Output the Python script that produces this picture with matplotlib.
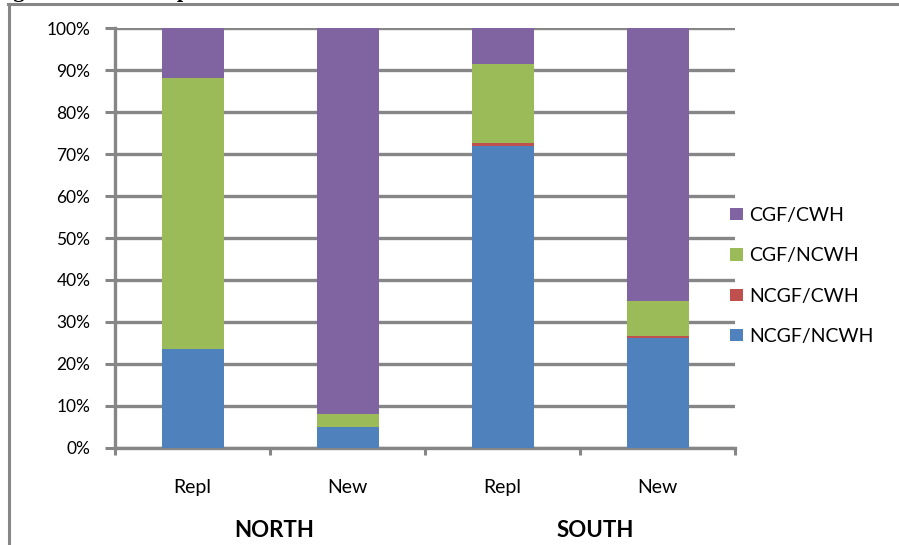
import matplotlib
matplotlib.use("Agg")
import matplotlib.pyplot as plt
import matplotlib.transforms as mtransforms
import numpy as np

plt.rcParams['font.family'] = ['Lato', 'DejaVu Sans']

# category layout: (sub-label, region)
sub_labels = ["Repl", "New", "Repl", "New"]
regions = ["NORTH", "SOUTH"]

# share of each type per bar, in percent (bottom to top)
ncgf_ncwh = [23.5, 5.0, 71.9, 26.2]
ncgf_cwh = [0.0, 0.0, 0.8, 0.4]
cgf_ncwh = [64.5, 3.0, 18.8, 8.4]
cgf_cwh = [12.0, 92.0, 8.5, 65.0]

series = [
    ("NCGF/NCWH", ncgf_ncwh, "#4F81BD"),
    ("NCGF/CWH", ncgf_cwh, "#C0504D"),
    ("CGF/NCWH", cgf_ncwh, "#9BBB59"),
    ("CGF/CWH", cgf_cwh, "#8064A2"),
]

grey = "#868686"

fig = plt.figure(figsize=(8.99, 5.45), dpi=100)
ax = fig.add_axes([0.128, 0.178, 0.6896, 0.7706])

x = np.arange(len(sub_labels))
bottom = np.zeros(len(sub_labels))
for name, vals, col in series:
    ax.bar(x, vals, width=0.4, bottom=bottom, color=col, label=name,
           linewidth=0, zorder=3)
    bottom += np.array(vals)

ax.set_xlim(-0.5, len(sub_labels) - 0.5)
ax.set_ylim(0, 100)
ax.set_yticks(np.arange(0, 101, 10))
ax.set_yticklabels([f"{v}%" for v in range(0, 101, 10)], fontsize=12.5)
ax.yaxis.grid(True, color=grey, linewidth=2.4, zorder=0)
ax.set_axisbelow(True)

# nudge the percent labels a little below their gridlines
shift = mtransforms.ScaledTranslation(0, -3 / 100, fig.dpi_scale_trans)
for lab in ax.get_yticklabels():
    lab.set_transform(lab.get_transform() + shift)

# ticks on the category boundaries, labels under each bar
ax.set_xticks(np.arange(-0.5, len(sub_labels), 1.0))
ax.set_xticklabels([])
ax.tick_params(axis="x", length=5, width=2.2, color=grey, direction="out")
ax.tick_params(axis="y", length=7.2, width=2.2, color=grey, direction="out", pad=10.5)
for xi, lab in zip(x, sub_labels):
    ax.text(xi, -10.7, lab, ha="center", va="baseline", fontsize=14)

region_pos = [0.526, 2.597]
for xp, lab in zip(region_pos, regions):
    ax.text(xp, -21.2, lab, ha="center", va="baseline", fontsize=16,
            fontweight="bold")

for side in ["top", "right"]:
    ax.spines[side].set_visible(False)
ax.spines["left"].set_color(grey)
ax.spines["left"].set_linewidth(2.4)
ax.spines["bottom"].set_color(grey)
ax.spines["bottom"].set_linewidth(2.4)

handles, labels = ax.get_legend_handles_labels()
fig.legend(handles[::-1], labels[::-1], loc="center left",
           bbox_to_anchor=(0.812, 0.4936), frameon=False, fontsize=14,
           handlelength=0.67, handleheight=0.62, handletextpad=0.3,
           labelspacing=1.2, borderpad=0, borderaxespad=0)

# chart area border (left and top edges show)
fig.add_artist(plt.Line2D([0.0095, 0.0095], [0.0, 0.992], color=grey,
                          linewidth=2.2, transform=fig.transFigure))
fig.add_artist(plt.Line2D([0.0085, 1.0], [0.992, 0.992], color=grey,
                          linewidth=2.2, transform=fig.transFigure))

# caption above the chart, mostly cut off
fig.text(0.008, 1.005, "igure", fontsize=16, fontweight="bold",
         family="Liberation Serif", va="baseline", ha="left")
fig.text(0.197, 1.005, "p", fontsize=16, fontweight="bold",
         family="Liberation Serif", va="baseline", ha="left")

fig.savefig("out.png", dpi=100)
